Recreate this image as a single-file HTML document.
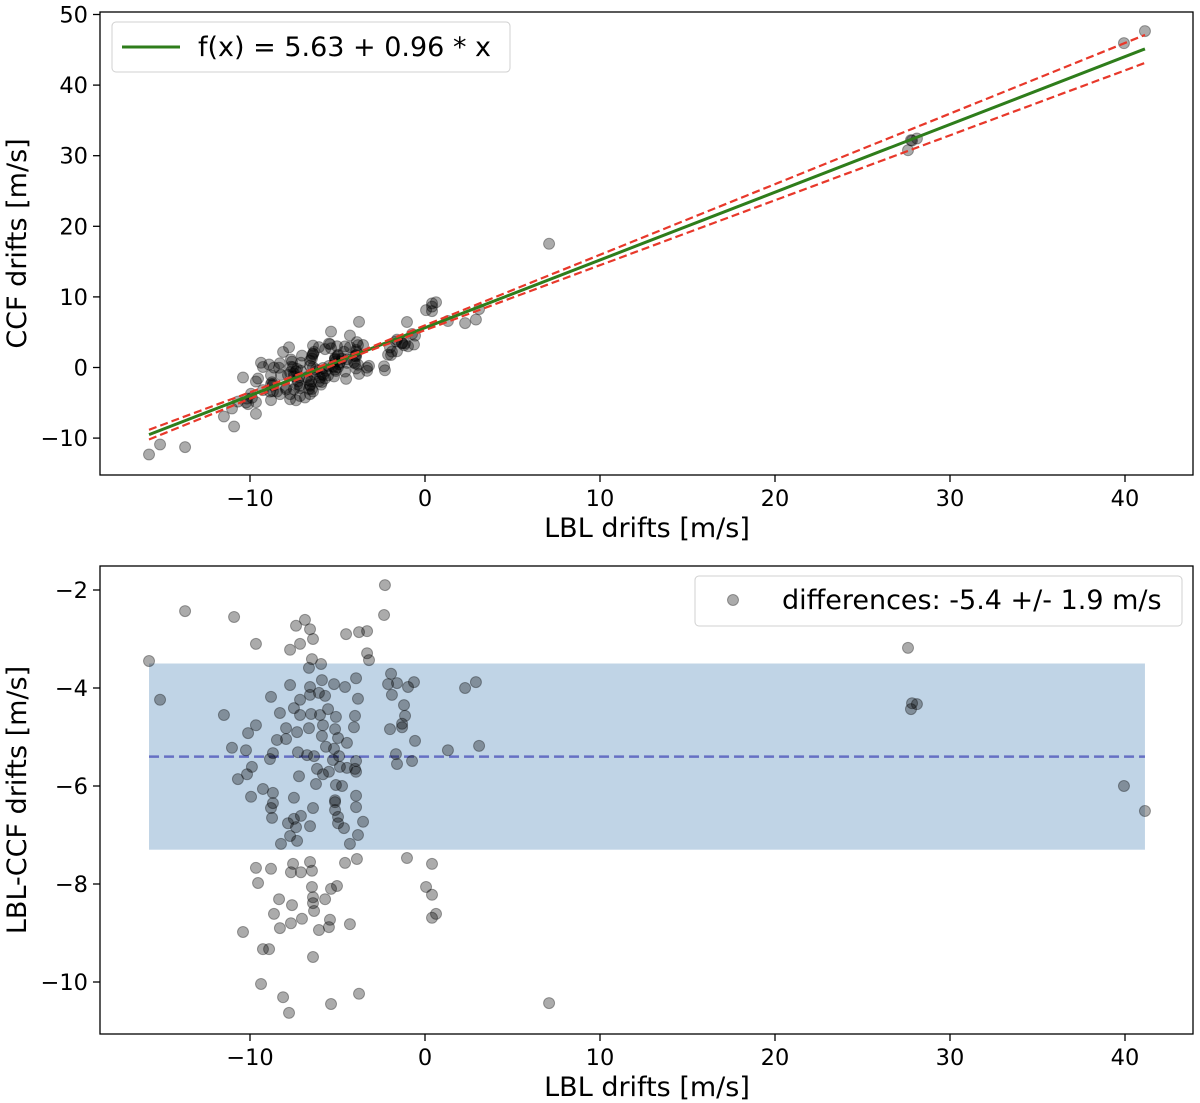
<!DOCTYPE html>
<html><head><meta charset="utf-8"><style>
body{margin:0;background:#fff;}
svg{display:block;font-family:"DejaVu Sans","Liberation Sans",sans-serif;}
</style></head><body>
<svg id="chart" width="1200" height="1103" viewBox="0 0 1200 1103" xmlns="http://www.w3.org/2000/svg"></svg>
<script>
// LBL drifts (x) and LBL-CCF differences (d); CCF = x - d
const lblDrifts=[-2.29,-13.71,-10.91,-7.37,-6.86,-6.57,-6.40,-9.66,-7.71,-7.14,-2.34,-4.51,-3.77,-3.31,-3.31,-3.20,-15.77,-6.46,-5.94,-6.63,-15.14,-11.49,-8.80,-7.71,-6.57,-5.89,-5.20,-4.57,-3.94,-1.94,-2.11,-1.60,-0.97,-0.63,-1.89,-6.57,-7.14,-6.06,-5.71,-3.83,-1.20,-1.14,-8.29,-7.49,-7.14,-6.51,-6.00,-5.54,-5.09,-4.00,-9.66,-10.11,-7.94,-7.31,-6.63,-5.83,-5.14,-4.06,-2.00,-1.31,-1.31,-0.57,1.31,-11.03,-10.23,-8.46,-7.94,-5.89,-4.97,-4.46,-5.66,-5.20,-7.26,-8.69,-8.86,-6.74,-6.34,-4.91,-5.26,-3.94,-1.66,-1.60,-0.74,-9.89,-10.17,-10.69,-7.20,-6.17,-5.83,-5.49,-4.86,-4.46,-4.00,-3.94,-6.23,-5.09,-4.74,-9.26,-8.69,-9.94,-7.49,-3.94,-5.14,-8.69,-8.80,-6.40,-5.14,-5.14,-3.94,-8.74,-7.83,-7.49,-7.09,-7.37,-6.57,-4.97,-4.97,-4.63,-3.54,-7.71,-7.31,-8.23,-4.29,-3.83,-9.66,-8.80,-7.54,-7.66,-7.09,-6.57,-6.46,-4.57,-3.89,-1.03,0.40,-9.54,-6.46,-5.37,-5.03,0.06,0.40,-8.34,-7.60,-6.40,-6.40,-5.71,-6.34,-8.63,-8.29,-7.66,-7.03,-6.06,-5.43,-5.49,-4.29,0.40,0.63,-10.40,-9.26,-8.91,-6.40,-9.37,-8.11,-3.77,-5.37,-7.77,27.6,27.83,27.77,28.11,39.94,41.14,7.09,2.29,2.91,3.09];
const differences=[-1.90,-2.43,-2.55,-2.73,-2.61,-2.80,-3.00,-3.10,-3.22,-3.10,-2.51,-2.90,-2.86,-2.84,-3.29,-3.43,-3.45,-3.41,-3.51,-3.59,-4.24,-4.55,-4.18,-3.94,-3.98,-3.84,-3.92,-3.98,-3.80,-3.71,-3.92,-3.90,-3.98,-3.88,-4.14,-4.14,-4.24,-4.10,-4.16,-4.22,-4.35,-4.57,-4.51,-4.41,-4.55,-4.53,-4.55,-4.43,-4.59,-4.57,-4.76,-4.92,-4.82,-4.90,-4.82,-4.76,-4.84,-4.80,-4.84,-4.73,-4.80,-5.08,-5.27,-5.22,-5.27,-5.06,-5.04,-4.98,-5.02,-5.12,-5.20,-5.24,-5.31,-5.33,-5.45,-5.37,-5.39,-5.39,-5.47,-5.49,-5.35,-5.55,-5.49,-5.61,-5.76,-5.86,-5.80,-5.65,-5.76,-5.71,-5.61,-5.63,-5.65,-5.71,-5.96,-5.98,-6.00,-6.06,-6.14,-6.22,-6.24,-6.20,-6.29,-6.35,-6.45,-6.45,-6.33,-6.49,-6.43,-6.65,-6.76,-6.67,-6.61,-6.84,-6.82,-6.63,-6.76,-6.86,-6.73,-7.02,-7.12,-7.18,-7.18,-7.00,-7.67,-7.69,-7.59,-7.76,-7.76,-7.55,-7.73,-7.57,-7.49,-7.47,-7.59,-7.98,-8.06,-8.10,-8.04,-8.06,-8.22,-8.31,-8.43,-8.27,-8.39,-8.31,-8.55,-8.61,-8.90,-8.80,-8.71,-8.94,-8.73,-8.88,-8.82,-8.69,-8.61,-8.98,-9.33,-9.33,-9.49,-10.04,-10.31,-10.24,-10.45,-10.63,-3.18,-4.31,-4.43,-4.33,-6.00,-6.51,-10.43,-4.00,-3.88,-5.18];
const fitIntercept=5.63, fitSlope=0.96;
const diffMean=-5.4, diffStd=1.9;
const xTicks=[-10,0,10,20,30,40];
const topYTicks=[-10,0,10,20,30,40,50];
const botYTicks=[-2,-4,-6,-8,-10];

const svg=document.getElementById('chart');
const NS='http://www.w3.org/2000/svg';
function mk(tag,attrs,parent,text){const e=document.createElementNS(NS,tag);for(const k in attrs)e.setAttribute(k,attrs[k]);if(text!==undefined)e.textContent=text;(parent||svg).appendChild(e);return e;}
const L=100,R=1193;
const xs=v=>425+(v)*17.5;
const yTop=v=>367.5-v*7.06;
const yBot=v=>688-(v+4)*49;
const minus=s=>String(s).replace('-','\u2212');

function axes(name,top,bottom,yfun,yticks,ylabel){
  const g=mk('g',{},svg);
  
  
  for(const t of xTicks){
    const x=xs(t);
    mk('line',{x1:x,x2:x,y1:bottom,y2:bottom+7,stroke:'#000','stroke-width':1.3},g);
    const tl=mk('text',{x:x,y:bottom+31,'font-size':22.5,'text-anchor':'middle'},g,minus(t));
    
    
  }
  for(const t of yticks){
    const y=yfun(t);
    mk('line',{x1:L-7,x2:L,y1:y,y2:y,stroke:'#000','stroke-width':1.3},g);
    const tl=mk('text',{x:L-12,y:y+8,'font-size':22.5,'text-anchor':'end'},g,minus(t));
    
    
  }
  const xl=mk('text',{x:647,y:bottom+62,'font-size':27,'text-anchor':'middle'},g,'LBL drifts [m/s]');
  
  
  const cy=(top+bottom)/2;
  const yl=mk('text',{x:0,y:0,'font-size':27,'text-anchor':'middle',transform:`translate(26,${cy}) rotate(-90)`},g,ylabel);
  
  
  return g;
}
function frame(top,bottom){
  const f=mk('rect',{x:L,y:top,width:R-L,height:bottom-top,fill:'none',stroke:'#000','stroke-width':1.3});
  
  
}

// ---- Top panel ----
const T0=12,T1=475;
axes('top-axes',T0,T1,yTop,topYTicks,'CCF drifts [m/s]');
const xmin=Math.min(...lblDrifts), xmax=Math.max(...lblDrifts);
const gTopPts=mk('g',{});


for(let i=0;i<lblDrifts.length;i++){
  const c=mk('circle',{cx:xs(lblDrifts[i]),cy:yTop(lblDrifts[i]-differences[i]),r:5.5,fill:'rgba(0,0,0,0.33)',stroke:'rgba(0,0,0,0.33)','stroke-width':1},gTopPts);
  
  
}
const fit=mk('line',{x1:xs(xmin),y1:yTop(fitIntercept+fitSlope*xmin),x2:xs(xmax),y2:yTop(fitIntercept+fitSlope*xmax),stroke:'#2e7d1b','stroke-width':3});


const xc=-3.5;
function band(sign){
  let d='';
  for(let k=0;k<=60;k++){
    const x=xmin+(xmax-xmin)*k/60;
    const w=0.2+0.04*Math.abs(x-xc);
    const y=fitIntercept+fitSlope*x+sign*w;
    d+=(k?'L':'M')+xs(x).toFixed(1)+','+yTop(y).toFixed(1);
  }
  return d;
}
const up=mk('path',{d:band(1),fill:'none',stroke:'#e8382a','stroke-width':2.2,'stroke-dasharray':'8,4'});


const lo=mk('path',{d:band(-1),fill:'none',stroke:'#e8382a','stroke-width':2.2,'stroke-dasharray':'8,4'});


frame(T0,T1);
const lg1=mk('g',{});


mk('rect',{x:112,y:22,width:398,height:50,rx:4,fill:'#fff','fill-opacity':0.85,stroke:'#d0d0d0'},lg1);
mk('line',{x1:122,x2:180,y1:47,y2:47,stroke:'#2e7d1b','stroke-width':3},lg1);
const lt1=mk('text',{x:198,y:56,'font-size':27},lg1,'f(x) = 5.63 + 0.96 * x');



// ---- Bottom panel ----
const B0=566,B1=1034;
axes('bottom-axes',B0,B1,yBot,botYTicks,'LBL-CCF drifts [m/s]');
const bandR=mk('rect',{x:xs(xmin),y:yBot(diffMean+diffStd),width:xs(xmax)-xs(xmin),height:yBot(diffMean-diffStd)-yBot(diffMean+diffStd),fill:'#c0d4e6'});


const meanL=mk('line',{x1:xs(xmin),x2:xs(xmax),y1:yBot(diffMean),y2:yBot(diffMean),stroke:'#6670c4','stroke-width':2.5,'stroke-dasharray':'10,5'});


const gBot=mk('g',{});


for(let i=0;i<lblDrifts.length;i++){
  const c=mk('circle',{cx:xs(lblDrifts[i]),cy:yBot(differences[i]),r:5.5,fill:'rgba(0,0,0,0.33)',stroke:'rgba(0,0,0,0.33)','stroke-width':1},gBot);
  
  
}
frame(B0,B1);
const lg2=mk('g',{});


mk('rect',{x:695,y:576,width:487,height:50,rx:4,fill:'#fff','fill-opacity':0.85,stroke:'#d0d0d0'},lg2);
mk('circle',{cx:733,cy:600,r:5.5,fill:'rgba(0,0,0,0.33)',stroke:'rgba(0,0,0,0.33)'},lg2);
const lt2=mk('text',{x:782,y:609,'font-size':27},lg2,'differences: -5.4 +/- 1.9 m/s');


</script>
</body></html>
